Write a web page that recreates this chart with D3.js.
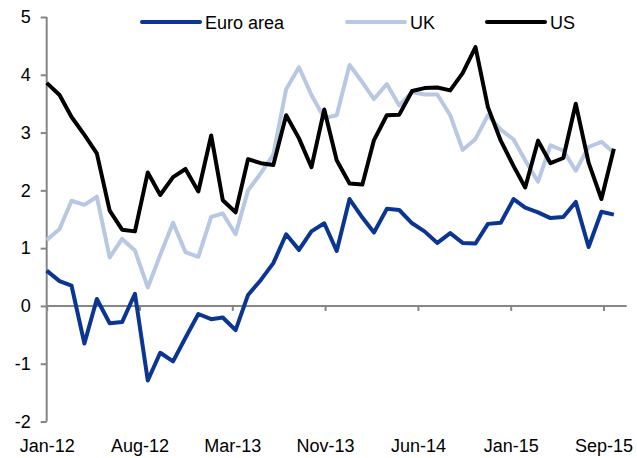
<!DOCTYPE HTML>
<html>
<head>
<meta charset="utf-8">
<title>Inflation</title>
<script src="https://d3js.org/d3.v7.min.js"></script>
<style>
body { margin: 0; background: #ffffff; }
text { font-family: "Liberation Sans", Arial, sans-serif; font-size: 18px; fill: #000000; }
</style>
</head>

<body>
<script>

"use strict";

// monthly, Jan-12 .. Oct-15
const firstMonth = new Date(2012, 0, 1);

const euroArea = [
  0.61, 0.43, 0.35, -0.65, 0.12, -0.30, -0.28, 0.21, -1.29, -0.81, -0.96, -0.55,
  -0.14, -0.23, -0.20, -0.42, 0.19, 0.45, 0.74, 1.24, 0.97, 1.29, 1.43, 0.95,
  1.85, 1.53, 1.27, 1.68, 1.66, 1.43, 1.29, 1.09, 1.26, 1.09, 1.08, 1.42,
  1.44, 1.85, 1.70, 1.62, 1.52, 1.54, 1.80, 1.02, 1.63, 1.58
];

const uk = [
  1.14, 1.33, 1.82, 1.75, 1.89, 0.84, 1.16, 0.96, 0.32, 0.88, 1.44, 0.93,
  0.85, 1.54, 1.60, 1.24, 2.00, 2.30, 2.62, 3.75, 4.13, 3.65, 3.25, 3.30,
  4.17, 3.87, 3.58, 3.84, 3.47, 3.70, 3.66, 3.66, 3.30, 2.70, 2.89, 3.30,
  3.05, 2.88, 2.52, 2.15, 2.78, 2.69, 2.34, 2.75, 2.84, 2.65
];

const us = [
  3.86, 3.65, 3.27, 2.96, 2.64, 1.65, 1.32, 1.29, 2.31, 1.92, 2.23, 2.37,
  1.98, 2.95, 1.83, 1.62, 2.54, 2.47, 2.44, 3.30, 2.90, 2.40, 3.40, 2.52,
  2.12, 2.10, 2.87, 3.30, 3.31, 3.72, 3.77, 3.78, 3.73, 4.03, 4.48, 3.44,
  2.86, 2.42, 2.05, 2.86, 2.47, 2.56, 3.50, 2.48, 1.85, 2.72
];

const seriesNames = ["Euro area", "UK", "US"];
const seriesColors = ["#0a3592", "#b8c7e2", "#000000"];
const yTicks = [-2, -1, 0, 1, 2, 3, 4, 5];
// excel date axis: a label every 224 days
const xTickDays = [0, 224, 448, 672, 896, 1120, 1344];

const months = euroArea.map((_, i) => d3.timeMonth.offset(firstMonth, i));

const svg = d3.select("body").append("svg")
  .attr("width", 637)
  .attr("height", 458);

const x = d3.scaleTime()
  .domain([firstMonth, new Date(2015, 10, 1)])
  .range([46.7, 626.7]);

const y = d3.scaleLinear()
  .domain([-2, 5])
  .range([421.5, 17]);

const axisColor = "#868686";

// y axis (plain hyphen for negatives, like the original)
const yAxis = svg.append("g")
  .attr("transform", "translate(46.7, 0)")
  .call(d3.axisLeft(y).tickValues(yTicks).tickSize(6).tickPadding(10).tickFormat((d) => String(d)));
yAxis.attr("font-size", null).attr("font-family", null);
yAxis.select(".domain").attr("stroke", axisColor).attr("stroke-width", 2).attr("d", "M0," + y(-2) + "V" + y(5));
yAxis.selectAll(".tick line").attr("stroke", axisColor).attr("stroke-width", 2);
yAxis.selectAll(".tick text").attr("fill", "#000");

// x axis sits on zero
const xTicks = xTickDays.map((d) => d3.timeDay.offset(firstMonth, d));
const xAxis = svg.append("g")
  .attr("transform", "translate(0, " + y(0) + ")")
  .call(d3.axisBottom(x).tickValues(xTicks).tickSize(5).tickFormat(d3.timeFormat("%b-%y")));
xAxis.attr("font-size", null).attr("font-family", null);
xAxis.select(".domain").attr("stroke", axisColor).attr("stroke-width", 2).attr("d", "M" + x.range()[0] + ",0H" + x.range()[1]);
xAxis.selectAll(".tick line").attr("stroke", axisColor).attr("stroke-width", 2);
xAxis.selectAll(".tick text")
  .attr("fill", "#000")
  .attr("dy", null)
  .attr("y", 452 - y(0));

// lines
const line = d3.line()
  .x((d, i) => x(months[i]))
  .y((d) => y(d));

[euroArea, uk, us].forEach((values, k) => {
  svg.append("path")
    .datum(values)
    .attr("d", line)
    .attr("fill", "none")
    .attr("stroke", seriesColors[k])
    .attr("stroke-width", 4)
    .attr("stroke-linejoin", "round")
    .attr("stroke-linecap", "butt");
});

// legend
const legendX = [142, 347, 487];
const legend = svg.append("g").selectAll("g")
  .data(seriesNames)
  .enter()
  .append("g")
  .attr("transform", (d, i) => "translate(" + legendX[i] + ", 22)");

legend.append("line")
  .attr("x1", 0)
  .attr("x2", 58)
  .attr("y1", 0)
  .attr("y2", 0)
  .attr("stroke", (d, i) => seriesColors[i])
  .attr("stroke-width", 4)
  .attr("stroke-linecap", "round");

legend.append("text")
  .attr("x", 63)
  .attr("y", 7)
  .text((d) => d);

</script>
</body>
</html>
